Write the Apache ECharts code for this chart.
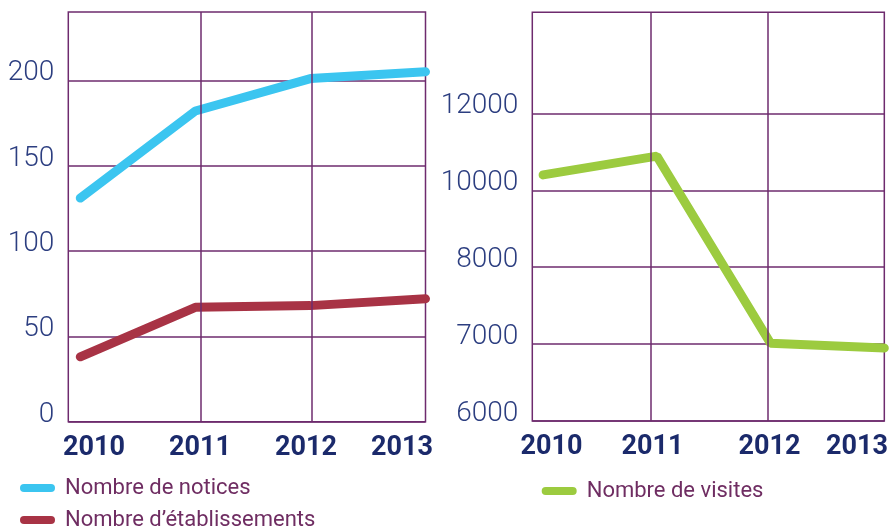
<!DOCTYPE html>
<html><head><meta charset="utf-8">
<script src="https://cdn.jsdelivr.net/npm/echarts@6/dist/echarts.min.js"></script>
<style>html,body{margin:0;padding:0;background:#fff}#c{width:891px;height:526px}</style>
</head><body><div id="c"></div>
<script>
// ---- data ----
const years = [2010, 2011, 2012, 2013];
const notices = [131, 182, 201, 205];
const etablissements = [38, 67, 68, 72];
const visites = [10400, 10890, 7010, 6950];
const leftTicks = [0, 50, 100, 150, 200];
const rightTickLabels = [6000, 7000, 8000, 10000, 12000];
const seriesNames = ['Nombre de notices', 'Nombre d\u2019établissements', 'Nombre de visites'];

// ---- styling / layout ----
const PURPLE = '#6e2b6e';
const Y_COL = '#2c3e80';
const X_COL = '#1b2a6b';
const LEG_COL = '#6f2d62';
const leftGridLines = [2011.049, 2012.014];
const leftLabelAnchors = [2010.119, 2011.04, 2011.962, 2012.796];
const rightGridLines = [2010.946, 2011.974];
const rightLabelAnchors = [2010.073, 2010.961, 2011.99, 2012.76];

// piecewise scale for the uneven right axis (value -> tick index position)
function visitScale(v) {
  const t = rightTickLabels;
  for (let i = 0; i < t.length - 1; i++) {
    if (v <= t[i + 1] || i === t.length - 2) return i + (v - t[i]) / (t[i + 1] - t[i]);
  }
}

const stadium = 'path://M4,0 L31,0 A4,4 0 0 1 31,8 L4,8 A4,4 0 0 1 4,0 Z';
const yLabel = {fontFamily: 'Roboto', fontWeight: 300, fontSize: 28, color: Y_COL, margin: 14, verticalAlign: 'bottom', lineHeight: 14};
const xLabel = {fontFamily: 'Roboto', fontWeight: 'bold', fontSize: 27, color: X_COL, margin: 13, formatter: v => String(Math.round(v))};
const legText = {fontFamily: 'Roboto', fontSize: 22, color: LEG_COL, lineHeight: 22, padding: [0, 0, 0, 5]};
function legendItem(name, left, top) {
  return {data: [name], left: left, top: top, padding: 0, itemWidth: 35, itemHeight: 8, icon: stadium, textStyle: legText};
}

const chart = echarts.init(document.getElementById('c'));
chart.setOption({
  animation: false,
  grid: [
    {left: 68.3, top: 12, width: 357.2, height: 409.7, show: true, borderColor: PURPLE, borderWidth: 1.5},
    {left: 532.3, top: 12.3, width: 356.7, height: 408.7, show: true, borderColor: PURPLE, borderWidth: 1.5}
  ],
  xAxis: [
    {type: 'value', gridIndex: 0, min: 2009.896, max: 2013, z: 5,
     axisLine: {show: false}, axisTick: {show: false, customValues: leftGridLines},
     splitLine: {show: true, lineStyle: {color: PURPLE, width: 1.5}},
     axisLabel: Object.assign({customValues: leftLabelAnchors}, xLabel)},
    {type: 'value', gridIndex: 1, min: 2009.905, max: 2013, z: 5,
     axisLine: {show: false}, axisTick: {show: false, customValues: rightGridLines},
     splitLine: {show: true, lineStyle: {color: PURPLE, width: 1.5}},
     axisLabel: Object.assign({customValues: rightLabelAnchors}, xLabel)}
  ],
  yAxis: [
    {type: 'value', gridIndex: 0, min: 0, max: 240,
     axisLine: {show: false}, axisTick: {show: false, customValues: leftTicks},
     splitLine: {show: true, lineStyle: {color: PURPLE, width: 1.5}},
     axisLabel: Object.assign({customValues: leftTicks}, yLabel)},
    {type: 'value', gridIndex: 1, min: 0, max: 5.315,
     axisLine: {show: false}, axisTick: {show: false, customValues: [0, 1, 2, 3, 4]},
     splitLine: {show: true, lineStyle: {color: PURPLE, width: 1.5}},
     axisLabel: Object.assign({customValues: [0, 1, 2, 3, 4], formatter: v => String(rightTickLabels[Math.round(v)])}, yLabel)}
  ],
  legend: [
    legendItem(seriesNames[0], 20, 477),
    legendItem(seriesNames[1], 20, 509),
    legendItem(seriesNames[2], 541.7, 480)
  ],
  series: [
    {name: seriesNames[0], type: 'line', xAxisIndex: 0, yAxisIndex: 0, symbol: 'none', color: '#3bc5f0',
     lineStyle: {width: 9, cap: 'round'}, data: years.map((y, i) => [y, notices[i]])},
    {name: seriesNames[1], type: 'line', xAxisIndex: 0, yAxisIndex: 0, symbol: 'none', color: '#a83345',
     lineStyle: {width: 9, cap: 'round'}, data: years.map((y, i) => [y, etablissements[i]])},
    {name: seriesNames[2], type: 'line', xAxisIndex: 1, yAxisIndex: 1, symbol: 'none', color: '#9ccb3f',
     lineStyle: {width: 9, cap: 'round'}, data: years.map((y, i) => [y, visitScale(visites[i])])}
  ]
});
</script></body></html>
